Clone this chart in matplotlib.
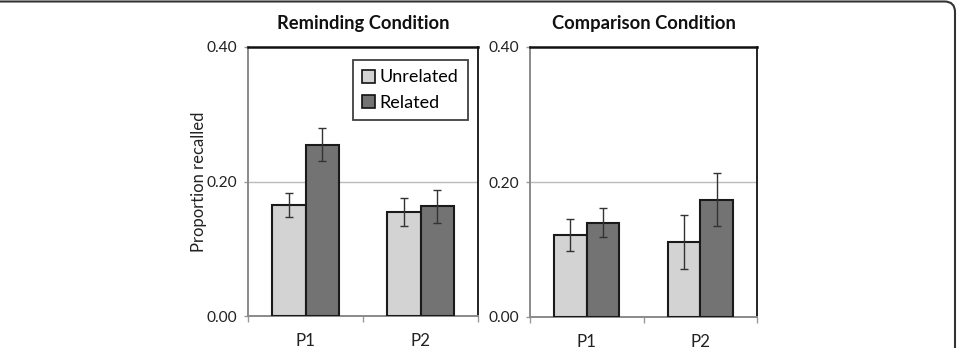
import matplotlib
matplotlib.use("Agg")
import matplotlib.pyplot as plt
import numpy as np
from matplotlib.patches import FancyBboxPatch

categories = ["P1", "P2"]
series = ["Unrelated", "Related"]
remind_unrel = [0.165, 0.155]
remind_rel = [0.255, 0.163]
remind_unrel_err = [0.018, 0.021]
remind_rel_err = [0.024, 0.025]
comp_unrel = [0.122, 0.111]
comp_rel = [0.140, 0.174]
comp_unrel_err = [0.0235, 0.040]
comp_rel_err = [0.0215, 0.039]
yticks = [0.0, 0.2, 0.4]
ytick_labels = ["0.00", "0.20", "0.40"]

FONT = "Lato"
plt.rcParams['font.family'] = [FONT, 'DejaVu Sans']

fig = plt.figure(figsize=(9.59, 3.48), dpi=100)
W, H = 959, 348

light = "#d3d3d3"
dark = "#737373"

def make_ax(left, right, top, bottom, title, unrel, rel, ue, re_, ylabel=None, legend=False):
    ax = fig.add_axes([left / W, 1 - bottom / H, (right - left) / W, (bottom - top) / H])
    x = np.arange(len(categories))
    w = 0.287
    ax.bar(x - w / 2, unrel, w, color=light, edgecolor="#1a1a1a", linewidth=1.5, zorder=3, label=series[0])
    ax.bar(x + w / 2, rel, w, color=dark, edgecolor="#1a1a1a", linewidth=1.5, zorder=3, label=series[1])
    ax.errorbar(x - w / 2, unrel, yerr=ue, fmt="none", ecolor="#333333", elinewidth=1.0, capsize=3, capthick=1.0, zorder=4)
    ax.errorbar(x + w / 2, rel, yerr=re_, fmt="none", ecolor="#333333", elinewidth=1.0, capsize=3, capthick=1.0, zorder=4)
    ax.set_xlim(-0.5, 1.5)
    ax.set_ylim(0, 0.4)
    ax.set_yticks(yticks)
    ax.set_yticklabels(ytick_labels, fontsize=11.2, color="#222222")
    ax.set_xticks(x)
    ax.set_xticklabels(categories, fontsize=12.2, color="#222222")
    ax.set_xticks([-0.5, 0.5, 1.5], minor=True)
    ax.tick_params(axis="x", which="major", length=0, pad=12)
    ax.tick_params(axis="x", which="minor", length=4, color="#999999", width=1)
    ax.tick_params(axis="y", length=3, color="#999999", width=1, pad=5)
    ax.axhline(0.2, color="#bbbbbb", linewidth=1, zorder=1)
    for s in ["top", "right"]:
        ax.spines[s].set_color("#111111")
        ax.spines[s].set_linewidth(1.3)
    ax.spines["top"].set_linewidth(1.8)
    for s in ["left", "bottom"]:
        ax.spines[s].set_color("#8a8a8a")
        ax.spines[s].set_linewidth(1.4)
    ax.set_title(title, fontsize=13.2, fontweight="bold", pad=13, color="#111111")
    if ylabel:
        ax.set_ylabel(ylabel, fontsize=12, color="#222222")
        ax.yaxis.set_label_coords((207 - left) / (right - left), 0.5)
    if legend:
        leg = ax.legend(loc="upper right", bbox_to_anchor=(0.955, 0.95), fontsize=13, frameon=True,
                        fancybox=False, edgecolor="#111111", handlelength=0.75, handleheight=0.75,
                        handletextpad=0.25, borderpad=0.5, labelspacing=0.5, borderaxespad=0)
        leg.get_frame().set_linewidth(1.3)
        for h in leg.legend_handles:
            h.set_edgecolor("#111111")
            h.set_linewidth(1.2)
    return ax

make_ax(248, 478, 47, 316, "Reminding Condition", remind_unrel, remind_rel,
        remind_unrel_err, remind_rel_err, ylabel="Proportion recalled", legend=True)
make_ax(530, 757, 47, 317, "Comparison Condition", comp_unrel, comp_rel,
        comp_unrel_err, comp_rel_err)

frame = FancyBboxPatch((-20 / W, -0.2), (955 + 20) / W, (1 - 1.5 / H) + 0.2,
                       boxstyle="round,pad=0,rounding_size=0.011", transform=fig.transFigure,
                       fill=False, edgecolor="#333333", linewidth=1.5, mutation_aspect=W / H)
fig.patches.append(frame)

fig.savefig("out.png", dpi=100)
